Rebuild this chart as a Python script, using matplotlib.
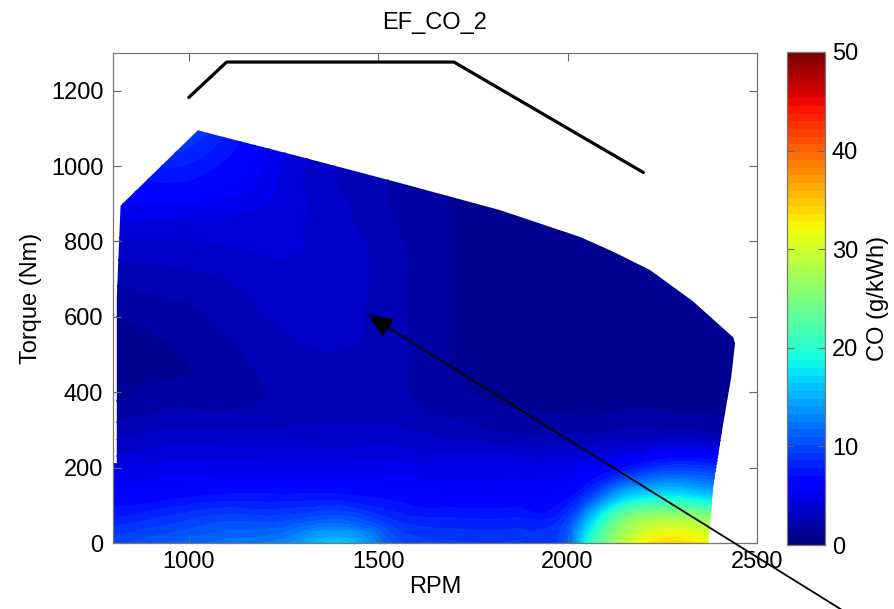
import numpy as np
import matplotlib
matplotlib.use("Agg")
import matplotlib.pyplot as plt
import matplotlib.tri as mtri
from matplotlib.patches import Polygon

plt.rcParams["font.family"] = ["Liberation Sans", "DejaVu Sans"]

# Engine speed / torque grid of measured CO emission factors (g/kWh)
rpm = [800, 950, 1100, 1250, 1400, 1550, 1700, 1850, 2000, 2060, 2150, 2250, 2350, 2450]
torque = [0, 60, 130, 200, 280, 380, 480, 580, 680, 780, 880, 980, 1100]
co_t0 = [10, 11, 12, 13, 16, 10.5, 9.5, 9.5, 11, 20, 29, 34, 33, 30]
co_t60 = [8, 9, 10, 10, 11, 8.5, 8, 8, 9.5, 16, 25, 28, 27, 25]
co_t130 = [6, 6.5, 7, 7, 7, 6.5, 6, 6, 6.5, 9, 15, 17, 16, 14]
co_t200 = [4.5, 5, 5, 5, 5, 5, 5, 5, 5, 5.5, 7, 9, 9, 8]
co_t280 = [3, 3.5, 3.5, 3.5, 3.5, 3.5, 3, 2.5, 2.5, 2.5, 3, 3, 3, 2.5]
co_t380 = [1.5, 2, 2, 2.5, 2.8, 2.5, 1.8, 1.4, 1.3, 1.3, 1.3, 1.3, 1.3, 1.3]
co_t480 = [1.2, 1.4, 2, 2.8, 3, 2.5, 1.5, 1.1, 1.1, 1.1, 1.1, 1.1, 1.1, 1.1]
co_t580 = [1.4, 1.8, 2.5, 3.2, 3.4, 2.5, 1.5, 1.1, 1.1, 1.1, 1.1, 1.1, 1.1, 1.1]
co_t680 = [2.3, 2.6, 3, 3.6, 3.6, 2.5, 1.5, 1.1, 1.1, 1.1, 1.1, 1.1, 1.1, 1.1]
co_t780 = [3.5, 3.6, 3.8, 4, 3.6, 2.5, 1.5, 1.1, 1.1, 1.1, 1.1, 1.1, 1.1, 1.1]
co_t880 = [5, 5, 4.8, 4.3, 3.3, 2.2, 1.5, 1.1, 1.1, 1.1, 1.1, 1.1, 1.1, 1.1]
co_t980 = [6.5, 7.5, 6.5, 4.5, 3, 2.2, 1.5, 1.1, 1.1, 1.1, 1.1, 1.1, 1.1, 1.1]
co_t1100 = [8, 10, 8, 5, 3, 2.2, 1.5, 1.1, 1.1, 1.1, 1.1, 1.1, 1.1, 1.1]

# Operating envelope covered by the measurements
env_rpm = [800, 800, 810, 810, 820, 1024, 1073, 1294, 1558, 1822, 2033, 2120,
           2218, 2330, 2437, 2442, 2432, 2408, 2384, 2371]
env_torque = [0, 212, 212, 652, 895, 1095, 1082, 1025, 955, 883, 812, 773,
              724, 642, 546, 530, 440, 300, 148, 0]

# Full-load torque curve
fl_rpm = [1000, 1100, 1700, 2200]
fl_torque = [1182, 1276, 1276, 983]

# Highlighted operating point
pt_rpm, pt_torque = 1473, 605

co = np.array([co_t0, co_t60, co_t130, co_t200, co_t280, co_t380, co_t480,
               co_t580, co_t680, co_t780, co_t880, co_t980, co_t1100])

fig = plt.figure(figsize=(8.94, 6.09), dpi=100)
ax = fig.add_axes([113 / 894, 66 / 609, 644 / 894, 490 / 609])
cax = fig.add_axes([787 / 894, 64 / 609, 38 / 894, 493 / 609])

cmap = plt.get_cmap("jet", 64)
levels = np.linspace(0, 50, 65)

# Smooth surface over the measurement grid
R, T = np.meshgrid(rpm, torque)
tri = mtri.Triangulation(R.ravel(), T.ravel())
refiner = mtri.UniformTriRefiner(tri)
interp = mtri.CubicTriInterpolator(tri, co.ravel(), kind="geom")
tri_fine, co_fine = refiner.refine_field(co.ravel(), triinterpolator=interp, subdiv=4)
cs = ax.tricontourf(tri_fine, co_fine, levels=levels, cmap=cmap,
                    vmin=0, vmax=50, extend="both")
cs.set_edgecolor("face")
cs.set_linewidth(0.4)

env = Polygon(np.column_stack([env_rpm, env_torque]), closed=True,
              facecolor="none", edgecolor="none", transform=ax.transData)
ax.add_patch(env)
cs.set_clip_path(env)

ax.plot(fl_rpm, fl_torque, color="black", lw=2.3, solid_capstyle="round")

ax.annotate("", xy=(pt_rpm, pt_torque), xycoords="data",
            xytext=(842 / 894, -1 / 609), textcoords="figure fraction",
            arrowprops=dict(arrowstyle="-|>,head_length=0.75,head_width=0.32",
                            mutation_scale=20, color="black", lw=1.3,
                            shrinkA=0, shrinkB=0),
            annotation_clip=False)

ax.set_xlim(800, 2500)
ax.set_ylim(0, 1300)
ax.set_xticks([1000, 1500, 2000, 2500])
ax.set_yticks([0, 200, 400, 600, 800, 1000, 1200])
ax.tick_params(direction="in", top=True, right=True, length=6, width=0.8,
               color="#666666", labelsize=17)
ax.tick_params(axis="x", pad=6)
ax.tick_params(axis="y", pad=7)
for s in ax.spines.values():
    s.set_color("#777777")
    s.set_linewidth(0.9)

ax.set_title("EF_CO_2", fontsize=17, pad=17)
ax.set_xlabel("RPM", fontsize=17, labelpad=2)
ax.set_ylabel("Torque (Nm)", fontsize=17, labelpad=6)

sm = matplotlib.cm.ScalarMappable(norm=matplotlib.colors.Normalize(0, 50), cmap=cmap)
cb = fig.colorbar(sm, cax=cax, ticks=[0, 10, 20, 30, 40, 50])
cb.outline.set_edgecolor("#777777")
cb.outline.set_linewidth(0.9)
cax.tick_params(direction="in", left=True, right=True, length=5, width=0.8,
                color="#666666", labelsize=17, pad=5)
cb.set_label("CO (g/kWh)", fontsize=17, labelpad=6)

fig.savefig("out.png", dpi=100)
